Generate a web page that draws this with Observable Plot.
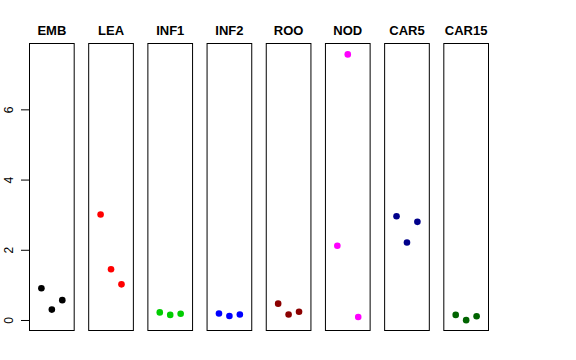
<!DOCTYPE html>
<html>
<head>
<meta charset="utf-8">
<script src="https://cdn.jsdelivr.net/npm/d3@7"></script>
<script src="https://cdn.jsdelivr.net/npm/@observablehq/plot@0.6"></script>
<style>
  html, body { margin: 0; padding: 0; background: white; }
  svg { display: block; }
</style>
</head>
<body>
<div id="chart"></div>
<script>
const categories = ["EMB", "LEA", "INF1", "INF2", "ROO", "NOD", "CAR5", "CAR15"];
const colors = ["black", "red", "#00CD00", "blue", "#8B0000", "#FF00FF", "#00008B", "#006400"];
const replicate = [1, 2, 3];
const EMB = [0.92, 0.31, 0.58];
const LEA = [3.02, 1.46, 1.03];
const INF1 = [0.23, 0.16, 0.19];
const INF2 = [0.20, 0.13, 0.17];
const ROO = [0.48, 0.17, 0.25];
const NOD = [2.13, 7.58, 0.10];
const CAR5 = [2.97, 2.22, 2.81];
const CAR15 = [0.16, 0.01, 0.12];
const yTicks = [0, 2, 4, 6];

const series = [EMB, LEA, INF1, INF2, ROO, NOD, CAR5, CAR15];
const rows = [];
categories.forEach((c, i) => {
  series[i].forEach((v, j) => rows.push({tissue: c, rep: replicate[j], value: v, color: colors[i]}));
});

const chart = Plot.plot({
  width: 576,
  height: 360,
  marginLeft: 29,
  marginRight: 88,
  marginTop: 43,
  marginBottom: 30,
  style: {fontFamily: "Liberation Sans, Arial, Helvetica, sans-serif", background: "white"},
  fx: {domain: categories, paddingInner: 0.245, paddingOuter: 0, round: false, axis: null},
  x: {domain: [-0.14, 4.14], axis: null},
  y: {domain: [-0.285, 7.89]},
  marks: [
    Plot.frame({stroke: "black", strokeWidth: 1}),
    Plot.axisY({
      ticks: yTicks,
      tickSize: 8,
      tickPadding: 8.5,
      tickRotate: -90,
      fontSize: 12,
      label: null,
      stroke: "black",
      strokeWidth: 1,
      strokeOpacity: 1,
      fill: "black"
    }),
    Plot.text(categories, {
      fx: d => d,
      text: d => d,
      frameAnchor: "top",
      dy: -9,
      lineAnchor: "bottom",
      fontWeight: "bold",
      fontSize: 13,
      fill: "black"
    }),
    Plot.dot(rows, {
      fx: "tissue",
      x: "rep",
      y: "value",
      r: 3.3,
      fill: "color",
      stroke: null
    })
  ]
});
document.getElementById("chart").appendChild(chart);
</script>
</body>
</html>
